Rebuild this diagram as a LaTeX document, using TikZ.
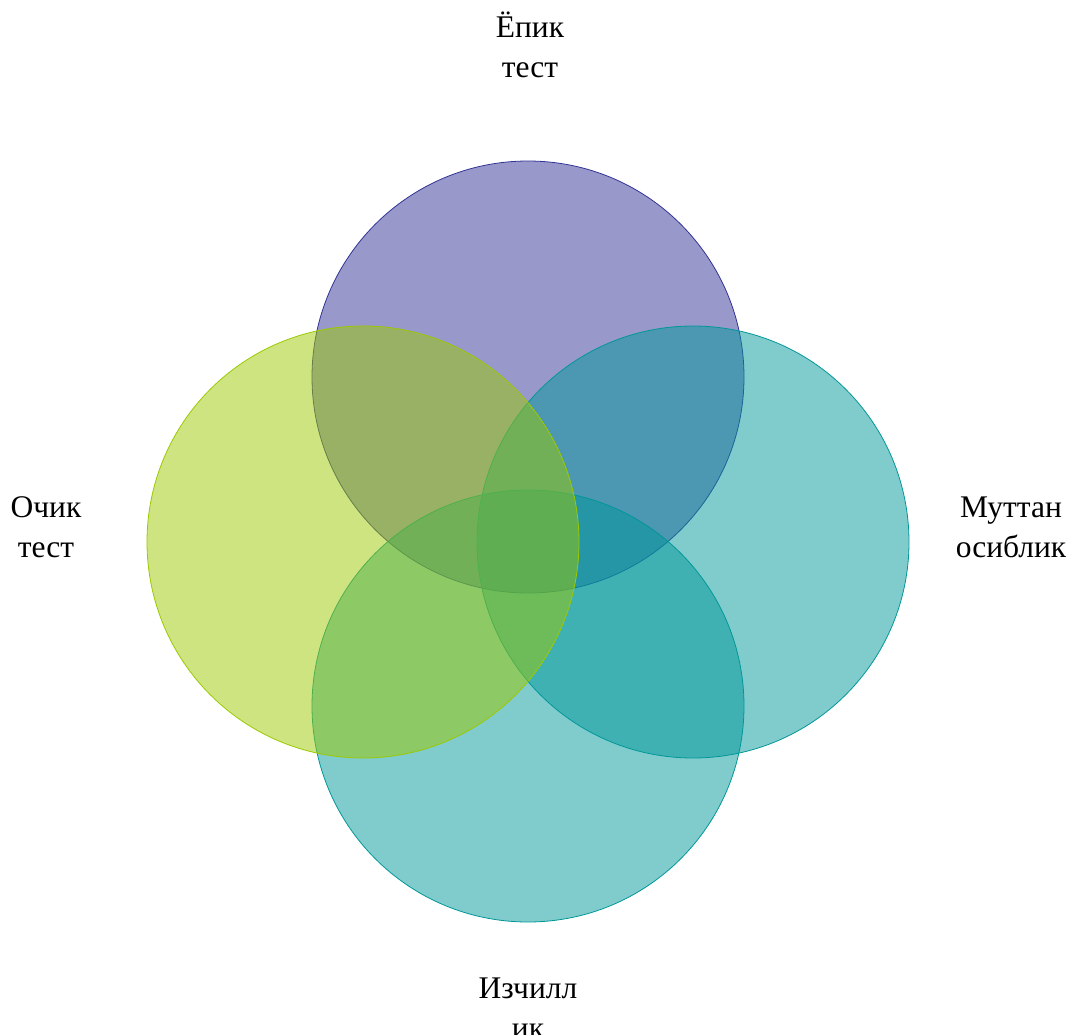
\documentclass[tikz,border=0pt]{standalone}
\usepackage{fontspec}
\setmainfont{Liberation Serif}
\definecolor{cTop}{RGB}{49,51,149}
\definecolor{cRight}{RGB}{1,151,153}
\definecolor{cBottom}{RGB}{1,151,153}
\definecolor{cLeft}{RGB}{155,201,1}
\tikzset{
  venn/.style={draw=#1, fill=#1, fill opacity=0.5, line width=0.8pt},
  lbl/.style={align=center, anchor=base, inner sep=0pt, font=\fontsize{31.5}{40}\selectfont, text=black}
}
\begin{document}
\begin{tikzpicture}[x=1pt,y=-1pt]
\useasboundingbox (0,0) rectangle (1070,1035);
\path[venn=cTop] (528,377) circle[radius=216];
\path[venn=cRight] (693,542) circle[radius=216];
\path[venn=cBottom] (528,706) circle[radius=216];
\path[venn=cLeft] (363,542) circle[radius=216];
\node[lbl] (ltop) at (530,78) {Ёпик\\тест};
\node[lbl] (lleft) at (46,557) {Очик\\тест};
\node[lbl] (lright) at (1011,557) {Муттан\\осиблик};
\node[lbl] (lbottom) at (528,1038) {Изчилл\\ик};
\end{tikzpicture}
\end{document}
